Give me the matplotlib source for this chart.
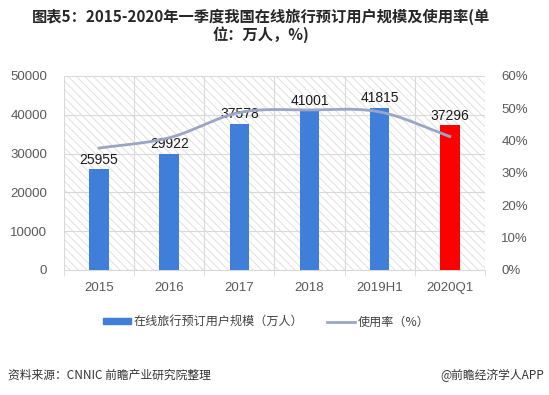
import numpy as np
import matplotlib
matplotlib.use('Agg')
import matplotlib.pyplot as plt
from matplotlib.patches import Patch
from matplotlib.lines import Line2D

plt.rcParams['font.family'] = ['Noto Sans CJK SC', 'DejaVu Sans']
plt.rcParams['hatch.color'] = '#dcdcdc'
plt.rcParams['hatch.linewidth'] = 0.6

categories = ['2015', '2016', '2017', '2018', '2019H1', '2020Q1']
userScale = [25955, 29922, 37578, 41001, 41815, 37296]
usageRate = [37.7, 40.9, 48.7, 49.5, 48.9, 41.3]
barColors = ['#3f7fd9', '#3f7fd9', '#3f7fd9', '#3f7fd9', '#3f7fd9', '#ff0000']


def smoothCurve(xs, ys, steps=30):
    # Catmull-Rom style smoothing like the office "smoothed line"
    xs = np.asarray(xs, float)
    ys = np.asarray(ys, float)
    px = np.concatenate([[2 * xs[0] - xs[1]], xs, [2 * xs[-1] - xs[-2]]])
    py = np.concatenate([[2 * ys[0] - ys[1]], ys, [2 * ys[-1] - ys[-2]]])
    outX, outY = [], []
    t = np.linspace(0, 1, steps)
    for i in range(1, len(px) - 2):
        for p, out in ((px, outX), (py, outY)):
            p0, p1, p2, p3 = p[i - 1], p[i], p[i + 1], p[i + 2]
            out.extend(0.5 * ((2 * p1) + (-p0 + p2) * t
                              + (2 * p0 - 5 * p1 + 4 * p2 - p3) * t ** 2
                              + (-p0 + 3 * p1 - 3 * p2 + p3) * t ** 3))
    return np.array(outX), np.array(outY)


fig = plt.figure(figsize=(5.49, 3.95), dpi=100)
ax = fig.add_axes([0.1166, 0.3165, 0.7664, 0.4911])
xPos = np.arange(len(categories))
numFont = ['Liberation Sans', 'DejaVu Sans']

# hatched plot area background
ax.patch.set_hatch('\\\\\\\\')
ax.patch.set_edgecolor('#dcdcdc')
ax.patch.set_linewidth(0)

ax.bar(xPos, userScale, width=0.28, color=barColors, zorder=3)
for xv, yv in zip(xPos, userScale):
    ax.text(xv, yv + 700, str(yv), ha='center', va='bottom', fontsize=10,
            color='#1a1a1a', family=numFont, zorder=5)

ax.set_xlim(-0.5, len(categories) - 0.5)
ax.set_ylim(0, 50000)
ax.set_yticks(np.arange(0, 50001, 10000))
ax.set_xticks(xPos)
ax.set_xticklabels(categories)
ax.set_xticks(np.arange(-0.5, len(categories), 1), minor=True)
ax.grid(axis='y', color='#d9d9d9', linewidth=0.8, zorder=1)
ax.grid(axis='x', which='minor', color='#d9d9d9', linewidth=0.8, zorder=1)
ax.tick_params(axis='x', which='major', length=0, pad=9, labelsize=9.5, labelcolor='#595959')
ax.tick_params(axis='x', which='minor', length=4, color='#d9d9d9')
ax.tick_params(axis='y', length=0, pad=12, labelsize=9.5, labelcolor='#595959')
for lab in ax.get_xticklabels() + ax.get_yticklabels():
    lab.set_family(numFont)
for side in ['top', 'right', 'left']:
    ax.spines[side].set_visible(False)
ax.spines['bottom'].set_color('#d9d9d9')

ax2 = ax.twinx()
sx, sy = smoothCurve(xPos, usageRate)
ax2.plot(sx, sy, color='#9aa6c4', linewidth=2, zorder=4)
ax2.set_ylim(0, 60)
ax2.set_yticks(np.arange(0, 61, 10))
ax2.set_yticklabels([f'{v}%' for v in range(0, 61, 10)])
ax2.tick_params(axis='y', length=0, pad=12, labelsize=9.5, labelcolor='#595959')
for lab in ax2.get_yticklabels():
    lab.set_family(numFont)
for side in ['top', 'right', 'left', 'bottom']:
    ax2.spines[side].set_visible(False)

handles = [Patch(color='#3f7fd9'), Line2D([0], [0], color='#9aa6c4', linewidth=2)]
fig.legend(handles, ['在线旅行预订用户规模（万人）', '使用率（%）'],
           loc='center', bbox_to_anchor=(0.485, 0.185), ncol=2, frameon=False,
           fontsize=8.7, handlelength=2.3, handleheight=0.45, columnspacing=2.0,
           handletextpad=0.2, labelcolor='#404040')

fig.text(0.476, 0.958, '图表5：2015-2020年一季度我国在线旅行预订用户规模及使用率(单',
         ha='center', va='center', fontsize=11, fontweight='bold', color='#262626')
fig.text(0.476, 0.913, '位：万人，%)', ha='center', va='center', fontsize=11,
         fontweight='bold', color='#262626')
fig.text(0.015, 0.05, '资料来源：CNNIC 前瞻产业研究院整理', ha='left', va='center',
         fontsize=8.5, color='#333333')
fig.text(0.992, 0.05, '@前瞻经济学人APP', ha='right', va='center',
         fontsize=8.5, color='#333333')

fig.savefig('out.png', dpi=100)
